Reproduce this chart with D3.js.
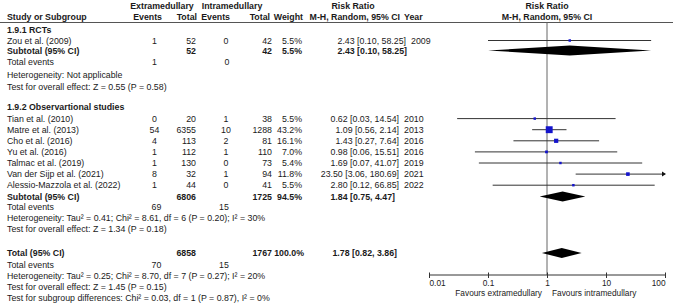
<!DOCTYPE html>
<html lang="en">
<head>
<meta charset="UTF-8">
<title>Forest plot</title>
<script src="https://d3js.org/d3.v7.min.js"></script>
<style>
  body { margin: 0; background: #fff; }
  svg text { font-family: "Liberation Sans", Arial, sans-serif; font-size: 8.8px; fill: #1a1a1a; }
  svg .axis text, svg .fav { font-size: 8.3px; }
  .b { font-weight: bold; }
</style>
</head>
<body>
<div class="chart"></div>
<script>
// data
const rctStudies = ["Zou et al. (2009)"];
const rctExtEvents = [1], rctExtTotal = [52], rctIntEvents = [0], rctIntTotal = [42];
const rctWeight = ["5.5%"];
const rctRR = [2.43], rctLow = [0.10], rctHigh = [58.25], rctYear = [2009];

const obsStudies = ["Tian et al. (2010)", "Matre et al. (2013)", "Cho et al. (2016)", "Yu et al. (2016)",
  "Talmac et al. (2019)", "Van der Sijp et al. (2021)", "Alessio-Mazzola et al. (2022)"];
const obsExtEvents = [0, 54, 4, 1, 1, 8, 1];
const obsExtTotal = [20, 6355, 113, 112, 130, 32, 44];
const obsIntEvents = [1, 10, 2, 1, 0, 1, 0];
const obsIntTotal = [38, 1288, 81, 110, 73, 94, 41];
const obsWeight = ["5.5%", "43.2%", "16.1%", "7.0%", "5.4%", "11.8%", "5.5%"];
const obsRR = [0.62, 1.09, 1.43, 0.98, 1.69, 23.50, 2.80];
const obsLow = [0.03, 0.56, 0.27, 0.06, 0.07, 3.06, 0.12];
const obsHigh = [14.54, 2.14, 7.64, 15.51, 41.07, 180.69, 66.85];
const obsYear = [2010, 2013, 2016, 2016, 2019, 2021, 2022];

// pooled rows
const rctSub = { ext: 52, int: 42, weight: "5.5%", rr: 2.43, low: 0.10, high: 58.25, extEv: 1, intEv: 0 };
const obsSub = { ext: 6806, int: 1725, weight: "94.5%", rr: 1.84, low: 0.75, high: 4.47, extEv: 69, intEv: 15 };
const allTot = { ext: 6858, int: 1767, weight: "100.0%", rr: 1.78, low: 0.82, high: 3.86, extEv: 70, intEv: 15 };

const rctHet = "Heterogeneity: Not applicable";
const rctTest = "Test for overall effect: Z = 0.55 (P = 0.58)";
const obsHet = "Heterogeneity: Tau\u00b2 = 0.41; Chi\u00b2 = 8.61, df = 6 (P = 0.20); I\u00b2 = 30%";
const obsTest = "Test for overall effect: Z = 1.34 (P = 0.18)";
const totHet = "Heterogeneity: Tau\u00b2 = 0.25; Chi\u00b2 = 8.70, df = 7 (P = 0.27); I\u00b2 = 20%";
const totTest = "Test for overall effect: Z = 1.45 (P = 0.15)";
const subgroupTest = "Test for subgroup differences: Chi\u00b2 = 0.03, df = 1 (P = 0.87), I\u00b2 = 0%";

const axisTicks = [0.01, 0.1, 1, 10, 100];
const axisLabels = ["0.01", "0.1", "1", "10", "100"];

const width = 673, height = 304;
const svg = d3.select('.chart').append('svg').attr('width', width).attr('height', height);

// column positions (events centred, the rest right aligned)
const col = { name: 7, extEv: 154.5, extTot: 196, intEv: 226, intTot: 272, weight: 302, rr: 399, year: 404 };
const fmt = d3.format('.2f');
const ciText = (r, l, h) => `${fmt(r)} [${fmt(l)}, ${fmt(h)}]`;

const x = d3.scaleLog().domain([0.01, 100]).range([429, 665]);
const yTop = 22.5, yAxis = 275;

function txt(s, px, py, anchor, bold) {
  return svg.append('text').attr('x', px).attr('y', py + 3.1)
    .attr('text-anchor', anchor || 'start').classed('b', !!bold).text(s);
}

// headers
txt("Extramedullary", 162, 6, 'middle', true);
txt("Intramedullary", 232, 6, 'middle', true);
txt("Risk Ratio", 353, 6, 'middle', true);
txt("Risk Ratio", x(1), 6, 'middle', true);
txt("Study or Subgroup", col.name, 17, 'start', true);
txt("Events", 162, 17, 'end', true);
txt("Total", 197, 17, 'end', true);
txt("Events", 230, 17, 'end', true);
txt("Total", 270, 17, 'end', true);
txt("Weight", 303, 17, 'end', true);
txt("M-H, Random, 95% CI", 400, 17, 'end', true);
txt("Year", col.year, 17, 'start', true);
txt("M-H, Random, 95% CI", x(1), 17, 'middle', true);

svg.append('line').attr('x1', 0).attr('x2', width).attr('y1', yTop).attr('y2', yTop)
  .attr('stroke', '#555').attr('stroke-width', 1);

// line of no effect
svg.append('line').attr('x1', x(1)).attr('x2', x(1)).attr('y1', yTop).attr('y2', yAxis)
  .attr('stroke', '#666').attr('stroke-width', 1);

function studyRow(i, y, shift, names, ee, et, ie, it, w, rr, lo, hi, yr) {
  txt(names[i], col.name, y);
  txt(ee[i], col.extEv, y, 'middle');
  txt(et[i], col.extTot, y, 'end');
  txt(ie[i], col.intEv, y, 'middle');
  txt(it[i], col.intTot, y, 'end');
  txt(w[i], col.weight, y, 'end');
  txt(ciText(rr[i], lo[i], hi[i]), col.rr + shift, y, 'end');
  txt(yr[i], col.year + shift, y);
  // CI line, cut at axis end with an arrow
  const x2 = Math.min(x(hi[i]), x(100));
  svg.append('line').attr('x1', Math.max(x(lo[i]), x(0.01))).attr('x2', x2)
    .attr('y1', y).attr('y2', y).attr('stroke', '#333').attr('stroke-width', 1);
  if (hi[i] > 100) {
    svg.append('path').attr('d', `M${x2 - 3},${y - 2.5}L${x2 + 1},${y}L${x2 - 3},${y + 2.5}Z`).attr('fill', '#111');
  }
  const s = Math.sqrt(parseFloat(w[i])) * 1.05;
  svg.append('rect').attr('x', x(rr[i]) - s / 2).attr('y', y - s / 2)
    .attr('width', s).attr('height', s).attr('fill', '#1414cc');
}

function subRow(label, d, y, rrRight) {
  txt(label, col.name, y, 'start', true);
  txt(d.ext, col.extTot, y, 'end', true);
  txt(d.int, col.intTot, y, 'end', true);
  txt(d.weight, col.weight + (d.weight.length > 5 ? 2 : 0), y, 'end', true);
  txt(ciText(d.rr, d.low, d.high), rrRight, y, 'end', true);
  svg.append('path')
    .attr('d', `M${x(d.low)},${y}L${x(d.rr)},${y - 5}L${x(d.high)},${y}L${x(d.rr)},${y + 5}Z`)
    .attr('fill', '#000');
}

function eventsRow(d, y, ex, ix) {
  txt("Total events", col.name, y);
  txt(d.extEv, ex, y, 'middle');
  txt(d.intEv, ix, y, 'middle');
}

// 1.9.1 RCTs
txt("1.9.1 RCTs", col.name, 30, 'start', true);
rctStudies.forEach((s, i) => studyRow(i, 40.5, 7, rctStudies, rctExtEvents, rctExtTotal, rctIntEvents, rctIntTotal, rctWeight, rctRR, rctLow, rctHigh, rctYear));
subRow("Subtotal (95% CI)", rctSub, 50.5, 407);
eventsRow(rctSub, 62, col.extEv, col.intEv + 1);
txt(rctHet, col.name, 74.5);
txt(rctTest, col.name, 86.5);

// 1.9.2 observational
txt("1.9.2 Observartional studies", col.name, 106.5, 'start', true);
const rowStep = 11.1;
obsStudies.forEach((s, i) => studyRow(i, 118.6 + i * rowStep, 0, obsStudies, obsExtEvents, obsExtTotal, obsIntEvents, obsIntTotal, obsWeight, obsRR, obsLow, obsHigh, obsYear));
subRow("Subtotal (95% CI)", obsSub, 196.5, 395);
eventsRow(obsSub, 206.5, 156.5, 224);
txt(obsHet, col.name, 218);
txt(obsTest, col.name, 229);

// overall
subRow("Total (95% CI)", allTot, 253, 397);
eventsRow(allTot, 264.5, 156.5, 224);
txt(totHet, col.name, 275.5);
txt(totTest, col.name, 286.5);
txt(subgroupTest, col.name, 297.5);

// axis
const axis = d3.axisBottom(x).tickValues(axisTicks).tickSize(3).tickPadding(2)
  .tickFormat((d, i) => axisLabels[i]);
const axisG = svg.append('g').attr('class', 'axis').attr('transform', `translate(0,${yAxis})`).call(axis);
axisG.select('.domain').attr('stroke', '#333').attr('d', `M${x(0.01)},0H${x(100)}`);
axisG.selectAll('.tick line').attr('y1', -2.5).attr('stroke', '#333');
axisG.selectAll('.tick text').attr('font-size', null).attr('font-family', null).style('fill', '#1a1a1a')
  .attr('text-anchor', (d, i) => i === 0 ? 'start' : (i === axisTicks.length - 1 ? 'end' : 'middle'));

txt("Favours extramedullary", 542, 293, 'end').classed('fav', true);
txt("Favours intramedullary", 552, 293, 'start').classed('fav', true);
</script>
</body>
</html>
